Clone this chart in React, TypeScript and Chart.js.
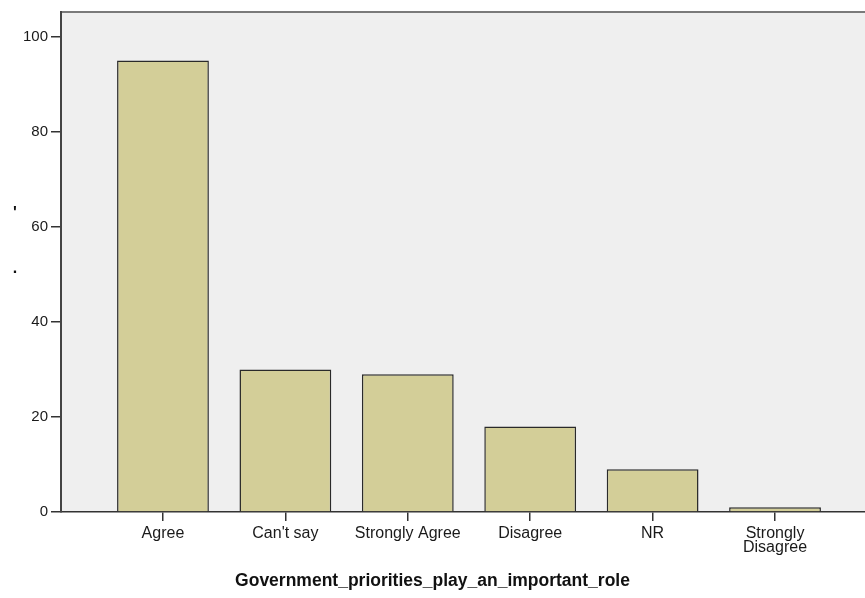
import React, { useEffect, useRef } from "react";
import { Chart, registerables } from "chart.js";

Chart.register(...registerables);

const categories: (string | string[])[] = [
  "Agree",
  "Can't say",
  "Strongly Agree",
  "Disagree",
  "NR",
  ["Strongly", "Disagree"],
];
const counts: number[] = [95, 30, 29, 18, 9, 1];
const yTicks: number[] = [0, 20, 40, 60, 80, 100];
const xTitle = "Government_priorities_play_an_important_role";
const yTitleMarks: string[] = ["'", "."];

const plotBackground = {
  id: "plotBackground",
  beforeDraw(chart: any) {
    const { ctx, chartArea } = chart;
    ctx.save();
    ctx.fillStyle = "#efefef";
    ctx.fillRect(chartArea.left, chartArea.top, chartArea.right - chartArea.left, chartArea.bottom - chartArea.top);
    ctx.strokeStyle = "#7a7a7a";
    ctx.lineWidth = 2;
    ctx.beginPath();
    ctx.moveTo(chartArea.left, chartArea.top);
    ctx.lineTo(chartArea.right, chartArea.top);
    ctx.stroke();
    ctx.restore();
  },
};

const yTitleMarksPlugin = {
  id: "yTitleMarks",
  afterDraw(chart: any) {
    const { ctx, chartArea } = chart;
    const mid = (chartArea.top + chartArea.bottom) / 2;
    ctx.save();
    ctx.fillStyle = "#111";
    ctx.font = "bold 16px 'Liberation Sans', Arial, sans-serif";
    ctx.textAlign = "center";
    ctx.textBaseline = "middle";
    ctx.fillText(yTitleMarks[0], 15, mid - 48);
    ctx.fillText(yTitleMarks[1], 15, mid + 7);
    ctx.restore();
  },
};

export default function App() {
  const ref = useRef<HTMLCanvasElement | null>(null);
  useEffect(() => {
    if (!ref.current) return;
    const chart = new Chart(ref.current, {
      type: "bar",
      data: {
        datasets: [
          {
            data: counts.map((v, i) => ({ x: i, y: v })),
            backgroundColor: "#d3ce98",
            borderColor: "#2a2a2a",
            borderWidth: 1.5,
            barPercentage: 0.75,
            categoryPercentage: 1,
          },
        ],
      },
      options: {
        animation: false,
        responsive: false,
        devicePixelRatio: 1,
        layout: { padding: { top: 10, left: 0, right: 0, bottom: 0 } },
        plugins: {
          legend: { display: false },
          tooltip: { enabled: false },
          title: {
            display: true,
            position: "bottom",
            text: xTitle,
            color: "#111",
            font: { family: "'Liberation Sans', Arial, sans-serif", size: 17.5, weight: "bold", lineHeight: 1.2 },
            padding: { top: 10, bottom: 6 },
          },
        },
        scales: {
          x: {
            type: "linear",
            min: -0.833,
            max: 5.735,
            offset: false,
            grid: { display: true, offset: false, drawOnChartArea: false, drawTicks: true, tickLength: 9, color: "#333", lineWidth: 1.5 },
            border: { display: true, color: "#333", width: 1.5 },
            ticks: {
              stepSize: 1,
              includeBounds: false,
              autoSkip: false,
              maxRotation: 0,
              padding: 6,
              color: "#1a1a1a",
              font: { family: "'Liberation Sans', Arial, sans-serif", size: 16, lineHeight: "14px" },
              callback: (v: any) => {
                const i = Math.round(Number(v));
                return Math.abs(Number(v) - i) < 1e-6 && categories[i] !== undefined ? categories[i] : "";
              },
            },
          },
          y: {
            min: 0,
            max: 105.2,
            grid: { display: true, drawOnChartArea: false, drawTicks: true, tickLength: 10, color: "#333", lineWidth: 1.5 },
            border: { display: true, color: "#444", width: 2 },
            afterFit: (scale: any) => {
              scale.width = 61;
            },
            afterBuildTicks: (scale: any) => {
              scale.ticks = yTicks.map((v) => ({ value: v }));
            },
            ticks: {
              padding: 3,
              color: "#1a1a1a",
              font: { family: "'Liberation Sans', Arial, sans-serif", size: 15 },
            },
          },
        },
      },
      plugins: [plotBackground, yTitleMarksPlugin],
    } as any);
    return () => chart.destroy();
  }, []);
  return (
    <div style={{ position: "absolute", left: 0, top: 0, width: 865, height: 598, background: "#fff" }}>
      <canvas ref={ref} width={865} height={598} style={{ display: "block" }} />
    </div>
  );
}
